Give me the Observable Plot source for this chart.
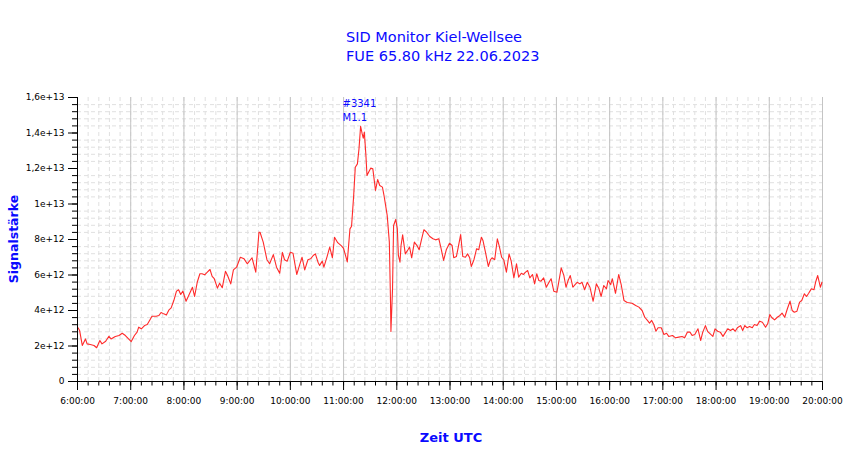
<!DOCTYPE html>
<html><head><meta charset="utf-8">
<script src="https://cdn.jsdelivr.net/npm/d3@7"></script>
<script src="https://cdn.jsdelivr.net/npm/@observablehq/plot@0.6"></script>
<style>
body{margin:0;background:#fff;}
#wrap{position:relative;width:850px;height:459px;font-family:"DejaVu Sans",sans-serif;}
#chart{position:absolute;left:0;top:0;}
.title{position:absolute;left:346px;top:28px;color:#0a0aff;font-size:14.5px;line-height:19px;white-space:nowrap;}
.ylab{position:absolute;left:13px;top:239px;transform:translate(-50%,-50%) rotate(-90deg);color:#0a0aff;font-weight:bold;font-size:12.5px;white-space:nowrap;}
.xlab{position:absolute;left:451px;top:437px;transform:translate(-50%,-50%);color:#0a0aff;font-weight:bold;font-size:13px;white-space:nowrap;}
</style></head>
<body>
<div id="wrap">
  <div id="chart"></div>
  <div class="title">SID Monitor Kiel-Wellsee<br>FUE 65.80 kHz 22.06.2023</div>
  <div class="ylab">Signalstärke</div>
  <div class="xlab">Zeit UTC</div>
</div>
<script>
// time in hours UTC
const times = [
6.01,6.04,6.09,6.15,6.18,6.24,6.31,6.36,6.42,6.46,6.53,6.59,6.63,6.71,6.78,6.84,6.90,6.96,
7.01,7.07,7.12,7.15,7.20,7.26,7.31,7.36,7.40,7.48,7.53,7.57,7.62,7.67,7.72,7.76,7.81,7.86,7.90,7.94,7.98,
8.04,8.09,8.16,8.20,8.25,8.30,8.34,8.39,8.44,8.49,8.53,8.57,8.63,8.67,8.72,8.78,8.82,8.88,8.93,8.99,
9.06,9.13,9.19,9.28,9.35,9.41,9.43,9.49,9.56,9.61,9.68,9.74,9.80,9.85,9.89,9.94,
10.00,10.05,10.12,10.18,10.22,10.27,10.33,10.38,10.43,10.47,10.52,10.55,10.60,10.63,10.69,10.74,10.79,10.83,10.89,10.96,
11.00,11.07,11.12,11.15,11.19,11.22,11.26,11.29,11.32,11.35,11.37,11.39,11.42,11.44,11.47,11.51,11.55,11.60,11.64,11.68,11.73,11.76,11.79,11.82,11.86,11.88,11.89,11.92,11.94,11.98,
12.01,12.03,12.06,12.08,12.11,12.16,12.21,12.24,12.28,12.33,12.38,12.42,12.46,12.51,12.56,12.62,12.68,12.73,12.79,12.83,12.88,12.93,12.99,
13.04,13.07,13.12,13.15,13.20,13.24,13.29,13.33,13.37,13.40,13.45,13.50,13.54,13.59,13.62,13.67,13.72,13.76,13.79,13.84,13.89,13.93,13.97,
14.01,14.06,14.11,14.15,14.20,14.25,14.29,14.34,14.38,14.42,14.46,14.50,14.55,14.59,14.63,14.67,14.71,14.76,14.81,14.86,14.90,14.95,
15.01,15.06,15.09,15.14,15.18,15.22,15.26,15.31,15.35,15.39,15.44,15.48,15.53,15.58,15.63,15.69,15.75,15.80,15.84,15.89,15.94,15.97,
16.02,16.05,16.11,16.17,16.22,16.27,16.33,16.42,16.49,16.55,16.61,16.66,16.71,16.75,16.79,16.83,16.87,16.91,16.97,
17.02,17.07,17.11,17.18,17.24,17.30,17.36,17.41,17.46,17.51,17.55,17.60,17.66,17.71,17.75,17.80,17.84,17.90,17.94,17.98,
18.03,18.08,18.13,18.18,18.22,18.27,18.32,18.36,18.40,18.46,18.50,18.54,18.58,18.63,18.68,18.72,18.77,18.82,18.87,18.93,18.97,
19.01,19.05,19.10,19.15,19.20,19.24,19.29,19.34,19.39,19.43,19.47,19.52,19.57,19.61,19.66,19.70,19.74,19.79,19.84,19.87,19.91,19.96,19.99
];
// signal strength in units of 1e12
const values = [
3.03,2.87,2.03,2.40,2.12,2.08,2.03,1.90,2.31,2.12,2.27,2.55,2.40,2.54,2.59,2.72,2.59,2.40,
2.25,2.59,2.78,3.06,2.97,3.15,3.21,3.47,3.68,3.68,3.72,3.89,3.81,3.74,4.04,4.15,4.56,5.09,5.17,4.90,5.09,
4.52,4.85,5.31,4.79,5.59,6.07,6.07,6.01,6.16,6.31,5.92,5.79,5.26,5.54,5.28,6.21,5.97,5.50,6.29,6.44,
7.00,6.91,6.63,6.97,6.16,8.41,8.41,7.85,6.86,6.63,7.15,6.44,6.10,7.28,6.86,6.78,
7.28,7.23,6.03,6.63,7.00,6.29,6.86,6.91,7.10,7.19,6.72,6.54,6.78,6.44,7.04,7.57,6.97,8.13,7.82,7.64,
7.50,6.74,8.60,8.75,10.48,12.07,12.26,13.11,14.38,13.95,13.71,14.05,12.73,11.61,11.79,12.02,11.98,10.76,11.38,11.04,10.95,10.48,9.92,9.35,7.85,4.85,2.82,5.22,8.79,9.13,
8.60,7.10,6.72,7.66,8.26,7.19,7.42,7.57,6.97,7.85,7.66,7.42,7.94,8.55,8.41,8.17,8.04,7.98,8.04,7.53,6.82,7.42,7.79,
7.66,6.97,7.04,7.48,8.28,7.04,7.00,7.19,6.97,6.48,6.86,7.48,7.42,8.13,7.94,7.23,6.48,6.86,6.97,6.86,8.04,7.57,7.00,
6.86,6.16,7.19,6.78,5.84,6.63,5.88,6.10,6.03,6.16,6.25,5.84,6.03,5.50,6.07,5.69,5.65,5.84,5.31,5.59,5.79,5.09,
5.03,5.88,6.40,5.97,5.31,5.69,5.97,5.31,5.46,5.59,5.50,5.59,5.17,5.59,5.31,4.52,5.50,5.22,4.79,5.41,5.22,5.69,
5.46,5.79,4.97,6.03,5.41,4.56,4.45,4.41,4.28,4.19,4.00,3.62,3.44,3.29,3.44,3.21,2.83,3.03,3.03,
2.65,2.72,2.54,2.59,2.46,2.50,2.54,2.46,2.78,2.78,2.59,2.65,2.97,2.31,2.78,3.15,2.83,2.65,2.54,2.97,
2.83,2.78,2.54,2.78,2.97,2.87,2.97,2.83,3.03,3.15,2.87,3.15,3.03,3.10,3.03,3.21,3.15,3.40,3.34,3.06,3.25,
3.77,3.59,3.47,3.62,3.72,3.85,3.62,4.10,4.52,4.00,3.90,3.96,4.47,4.56,4.94,4.79,4.97,5.22,5.17,5.59,5.97,5.31,5.59
];
const xTicks = [6,7,8,9,10,11,12,13,14,15,16,17,18,19,20];
const xTickLabels = ["6:00:00","7:00:00","8:00:00","9:00:00","10:00:00","11:00:00","12:00:00","13:00:00","14:00:00","15:00:00","16:00:00","17:00:00","18:00:00","19:00:00","20:00:00"];
const yTicks = [0,2,4,6,8,10,12,14,16];
const yTickLabels = ["0","2e+12","4e+12","6e+12","8e+12","1e+13","1,2e+13","1,4e+13","1,6e+13"];
const flareLabel = "#3341\nM1.1";
const flareTime = 10.98;

const data = times.map((t, i) => ({t, v: values[i]}));
const xMinor = d3.range(0, 71).map(i => 6 + i * 0.2);
const yMinor = d3.range(0, 41).map(i => i * 0.4);
const yMinorGrid = yMinor.filter((d, i) => i % 5 !== 0);

const plot = Plot.plot({
  width: 850, height: 459,
  marginLeft: 77, marginRight: 28, marginTop: 97, marginBottom: 78,
  x: {domain: [6, 20], label: null},
  y: {domain: [0, 16], label: null},
  style: {fontFamily: "DejaVu Sans", fontSize: "9px", color: "#000", background: "transparent"},
  marks: [
    Plot.gridX(xMinor, {stroke: "#e0e0e0", strokeOpacity: 1, strokeDasharray: "4,3"}),
    Plot.gridY(yMinorGrid, {stroke: "#e0e0e0", strokeOpacity: 1, strokeDasharray: "4,3"}),
    Plot.gridX(xTicks.slice(1), {stroke: "#c4c4c4", strokeOpacity: 1}),
    Plot.line(data, {x: "t", y: "v", stroke: "#ff2a2a", strokeWidth: 1.1}),
    Plot.ruleX([6], {stroke: "#000"}),
    Plot.ruleY([0], {stroke: "#000"}),
    Plot.axisY(yMinor, {tickSize: 5, tickFormat: () => ""}),
    Plot.axisY(yTicks, {tickSize: 9, tickPadding: 4, tickFormat: d => yTickLabels[yTicks.indexOf(d)]}),
    Plot.axisX(xMinor, {tickSize: 4.5, tickFormat: () => ""}),
    Plot.axisX(xTicks, {tickSize: 9, tickPadding: 7, tickFormat: d => xTickLabels[xTicks.indexOf(d)]}),
    Plot.text([flareLabel], {x: [flareTime], frameAnchor: "top", textAnchor: "start", lineAnchor: "top",
      dy: -1, lineHeight: 1.42, fill: "#0a0aff", fontSize: 10})
  ]
});
document.getElementById("chart").appendChild(plot);
</script>
</body></html>
